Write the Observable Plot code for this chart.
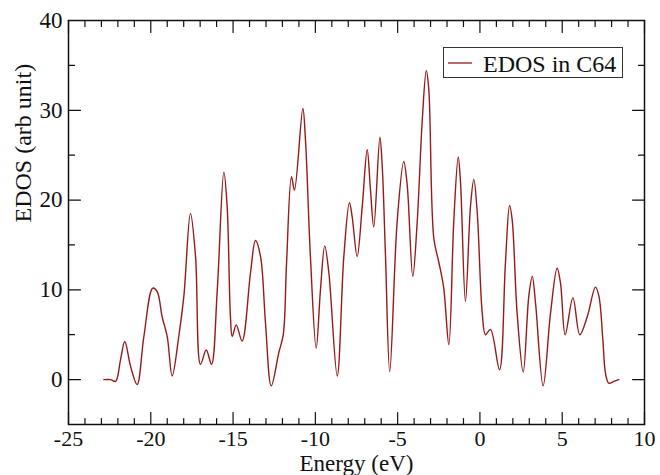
<!DOCTYPE html>
<html>
<head>
<meta charset="utf-8">
<script src="https://cdn.jsdelivr.net/npm/d3@7"></script>
<script src="https://cdn.jsdelivr.net/npm/@observablehq/plot@0.6"></script>
<style>
  html, body { margin: 0; padding: 0; background: #fff; }
  #wrap { position: relative; width: 660px; height: 475px; }
  #legend { position: absolute; left: 443px; top: 47px; width: 180px; height: 31px;
            border: 1px solid #333; background: #fff; box-sizing: border-box; }
</style>
</head>
<body>
<div id="wrap"></div>
<script>
// ---- data ----
const energy = [
  -22.85, -22.45, -22.14, -21.84, -21.58, -21.23, -20.83, -20.42, -19.88, -19.61,
  -19.31, -19.00, -18.70, -18.30, -17.99, -17.59, -17.28, -16.98, -16.63, -16.31,
  -15.96, -15.56, -15.36, -15.16, -15.05, -14.81, -14.45, -13.94, -13.64, -13.33,
  -13.03, -12.68, -12.22, -11.95, -11.75, -11.45, -11.27, -10.76, -10.60, -10.30,
  -9.95, -9.69, -9.43, -9.18, -8.67, -8.27, -7.93, -7.76, -7.46, -7.15,
  -6.85, -6.65, -6.45, -6.08, -5.94, -5.74, -5.48, -5.03, -4.63, -4.42,
  -4.08, -3.81, -3.51, -3.26, -3.11, -2.80, -2.50, -2.20, -1.89, -1.59,
  -1.32, -1.18, -0.88, -0.57, -0.37, -0.16, 0.14, 0.34, 0.64, 1.19,
  1.55, 1.80, 1.96, 2.26, 2.63, 2.97, 3.18, 3.38, 3.84, 4.29,
  4.69, 4.90, 5.18, 5.65, 6.07, 6.52, 7.02, 7.23, 7.47, 7.63,
  7.83, 8.14, 8.44
];
const edos = [
  0.0, 0.0, -0.2, 2.2, 4.25, 1.5, -0.55, 4.8, 10.2, 9.8,
  7.0, 4.8, 0.4, 4.8, 9.3, 18.5, 13.7, 1.7, 3.3, 1.7,
  10.0, 23.1, 19.3, 7.0, 4.8, 6.1, 4.3, 11.9, 15.5, 13.7,
  6.3, -0.7, 3.0, 5.0, 13.0, 22.6, 21.1, 30.2, 26.7, 13.7,
  3.5, 10.0, 14.9, 11.9, 0.4, 13.7, 19.7, 18.1, 13.7, 19.3,
  25.6, 21.1, 17.0, 27.0, 23.9, 13.9, 0.9, 17.6, 24.3, 21.7,
  11.5, 17.6, 28.7, 34.4, 32.4, 15.7, 13.1, 10.2, 3.9, 17.6,
  24.8, 22.0, 8.7, 19.4, 22.3, 18.5, 7.4, 5.0, 5.6, 1.1,
  13.0, 19.4, 17.8, 7.4, 0.85, 9.3, 11.5, 8.5, -0.7, 7.4,
  12.4, 10.7, 5.0, 9.1, 5.0, 7.0, 10.3, 9.3, 4.4, 0.7,
  -0.4, -0.2, 0.0
];
const xDomain = [-25, 10];
const yDomain = [-5, 40];
const xMajorTicks = [-25, -20, -15, -10, -5, 0, 5, 10];
const xMinorTicks = d3.range(-24, 10).filter(v => v % 5 !== 0);
const yMajorTicks = [0, 10, 20, 30, 40];
const yMinorTicks = [5, 15, 25, 35];
const seriesName = "EDOS in C64";
const xLabel = "Energy (eV)";
const yLabel = "EDOS (arb unit)";

const rows = energy.map((e, i) => ({energy: e, edos: edos[i]}));

const lineColor = "#971a1a";
const ink = "#111";
const serif = "'Liberation Serif', 'Times New Roman', serif";
const tickShape = { draw(context, l) { context.moveTo(0, 0); context.lineTo(0, -l); } };
const ticks = (data, opts, len) => Plot.vector(data, {
  ...opts, length: len, anchor: "start", shape: tickShape, stroke: ink, strokeWidth: 1.2
});

const chart = Plot.plot({
  width: 660,
  height: 475,
  marginLeft: 68,
  marginRight: 16,
  marginTop: 20,
  marginBottom: 51,
  style: {fontFamily: serif, color: ink, background: "#fff"},
  x: {domain: xDomain},
  y: {domain: yDomain},
  marks: [
    Plot.line(rows, {x: "energy", y: "edos", curve: "catmull-rom", stroke: lineColor, strokeWidth: 1.4}),
    // inward ticks on all four sides
    ticks(xMajorTicks, {x: d => d, frameAnchor: "bottom", rotate: 0}, 12),
    ticks(xMinorTicks, {x: d => d, frameAnchor: "bottom", rotate: 0}, 6),
    ticks(xMajorTicks, {x: d => d, frameAnchor: "top", rotate: 180}, 12),
    ticks(xMinorTicks, {x: d => d, frameAnchor: "top", rotate: 180}, 6),
    ticks(yMajorTicks, {y: d => d, frameAnchor: "left", rotate: 90}, 12),
    ticks(yMinorTicks, {y: d => d, frameAnchor: "left", rotate: 90}, 6),
    ticks(yMajorTicks, {y: d => d, frameAnchor: "right", rotate: -90}, 12),
    ticks(yMinorTicks, {y: d => d, frameAnchor: "right", rotate: -90}, 6),
    Plot.axisX({ticks: xMajorTicks, tickSize: 0, tickPadding: 6, tickFormat: d => String(d), fontSize: 22, label: null}),
    Plot.axisY({ticks: yMajorTicks, tickSize: 0, tickPadding: 6, tickFormat: d => String(d), fontSize: 23, label: null}),
    Plot.text([xLabel], {frameAnchor: "bottom", dy: 46, lineAnchor: "bottom", fontSize: 23, fill: ink}),
    Plot.text([yLabel], {frameAnchor: "left", dx: -45, rotate: -90, lineAnchor: "middle", fontSize: 24, fill: ink}),
    Plot.frame({stroke: ink, strokeWidth: 1.5})
  ]
});

const wrap = document.getElementById("wrap");
wrap.appendChild(chart);

// legend box inside the plot area
const legend = document.createElement("div");
legend.id = "legend";
legend.innerHTML = `<svg width="178" height="29" style="position:absolute;left:0;top:0">
  <line x1="4" x2="28" y1="15" y2="15" stroke="${lineColor}" stroke-width="1.3"></line>
  <text x="39" y="24" font-family="${serif.replace(/"/g, '')}" font-size="24" fill="${ink}">${seriesName}</text>
</svg>`;
wrap.appendChild(legend);
</script>
</body>
</html>
